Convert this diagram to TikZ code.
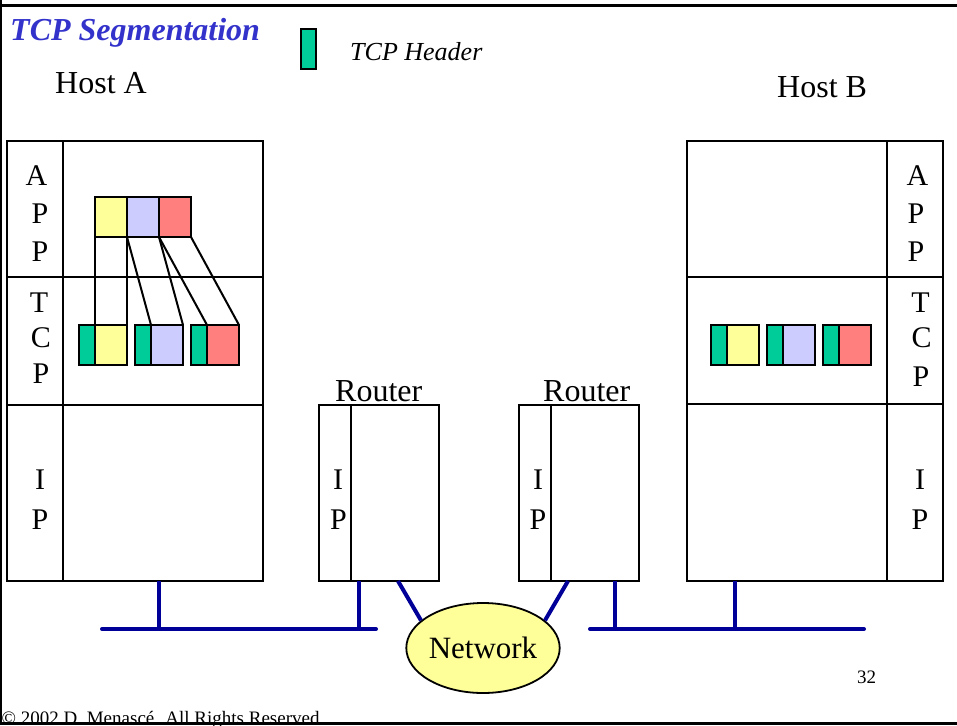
\documentclass[tikz,border=0pt]{standalone}
\usepackage{fontspec}
\setmainfont{Liberation Serif}
\usetikzlibrary{shapes.geometric}
\definecolor{hdr}{HTML}{00CC99}
\definecolor{ylw}{HTML}{FFFF99}
\definecolor{lav}{HTML}{CCCCFF}
\definecolor{sal}{HTML}{FF7F7F}
\definecolor{titleblue}{HTML}{3333CC}
\definecolor{wirecol}{HTML}{000099}
\begin{document}
\begin{tikzpicture}[x=1pt,y=-1pt,
  box/.style={draw, line width=2.5pt, inner sep=0pt, outer sep=0pt},
  divider/.style={line width=2.5pt},
  pk/.style={draw, line width=2.5pt, inner sep=0pt, outer sep=0pt,
             minimum height=40pt, anchor=north west},
  hd/.style={pk, fill=hdr, minimum width=16pt},
  dt/.style={pk, minimum width=32pt},
  link/.style={line width=2pt},
  wire/.style={draw=wirecol, line width=4pt},
  lt/.style={anchor=base, inner sep=0pt, font=\fontsize{30}{30}\selectfont},
  lbl/.style={anchor=base west, inner sep=0pt, font=\fontsize{32}{38}\selectfont},
  small/.style={anchor=base west, inner sep=0pt, font=\fontsize{19}{22}\selectfont}]
\useasboundingbox (0,0) rectangle (957,725);
\clip (0,0) rectangle (957,725);

% slide frame
\fill (0,4.5) rectangle (957,7);
\fill (0,0) rectangle (2,725);

% titles and labels
\node[lbl, font=\fontsize{32}{38}\selectfont\bfseries\itshape, text=titleblue]
  (title) at (10,40.5) {TCP Segmentation};
\node[pk, fill=hdr, minimum width=15pt] (legend) at (301,29) {};
\node[anchor=base west, inner sep=0pt, font=\fontsize{26}{30}\selectfont\itshape]
  (legendtext) at (350,60) {TCP Header};
\node[lbl] (hostAlbl) at (55,93) {Host A};
\node[lbl] (hostBlbl) at (777,97) {Host B};
\node[lbl] (r1lbl) at (335,401) {Router};
\node[lbl] (r2lbl) at (543,401) {Router};

% hosts and routers
\node[box, minimum width=256pt, minimum height=440pt] (hostA) at (135,361) {};
\node[box, minimum width=256pt, minimum height=440pt] (hostB) at (815,361) {};
\node[box, minimum width=120pt, minimum height=176pt] (r1) at (379,493) {};
\node[box, minimum width=120pt, minimum height=176pt] (r2) at (579,493) {};

\draw[divider] (63,141) -- (63,581) (7,277) -- (263,277) (7,405) -- (263,405);
\draw[divider] (887,141) -- (887,581) (687,277) -- (943,277) (687,404) -- (943,404);
\draw[divider] (351,405) -- (351,581);
\draw[divider] (551,405) -- (551,581);

% layer letters
\foreach \t/\x/\y/\n in {A/36.5/185/ha1, P/40/223/ha2, P/40/261/ha3,
    T/39/312/ht1, C/41/347/ht2, P/41/383/ht3, I/40/489/hi1, P/40/529/hi2,
    A/917.5/185/hb1, P/916/223/hb2, P/916/261/hb3,
    T/920.5/312/hbt1, C/921.5/347/hbt2, P/921/386/hbt3,
    I/920/489/hbi1, P/920/529/hbi2,
    I/338/489/ra1, P/338.5/529/ra2, I/538/489/rb1, P/538/529/rb2}
  \node[lt] (\n) at (\x,\y) {\t};

% application data in host A
\node[dt, fill=ylw] (ay) at (95,197) {};
\node[dt, fill=lav] (ab) at (127,197) {};
\node[dt, fill=sal] (ar) at (159,197) {};

% segments in host A
\node[hd] (a1h) at (79,325) {};  \node[dt, fill=ylw] (a1d) at (95,325) {};
\node[hd] (a2h) at (135,325) {}; \node[dt, fill=lav] (a2d) at (151,325) {};
\node[hd] (a3h) at (191,325) {}; \node[dt, fill=sal] (a3d) at (207,325) {};

\draw[link] (ay.south west) -- (a1d.north west);
\draw[link] (ay.south east) -- (a1d.north east);
\draw[link] (ab.south west) -- (a2d.north west);
\draw[link] (ab.south east) -- (a2d.north east);
\draw[link] (ar.south west) -- (a3d.north west);
\draw[link] (ar.south east) -- (a3d.north east);

% segments in host B
\node[hd] (b1h) at (711,325) {}; \node[dt, fill=ylw] (b1d) at (727,325) {};
\node[hd] (b2h) at (767,325) {}; \node[dt, fill=lav] (b2d) at (783,325) {};
\node[hd] (b3h) at (823,325) {}; \node[dt, fill=sal] (b3d) at (839,325) {};

% network
\node[ellipse, draw, line width=1.8pt, fill=ylw, minimum width=152pt,
  minimum height=90pt, inner sep=0pt, font=\fontsize{31}{36}\selectfont]
  (net) at (483,648) {Network};

% LAN wiring
\coordinate (busA1) at (102,629); \coordinate (busA2) at (376,629);
\coordinate (tapA) at (159,629);  \coordinate (tapR1) at (359,629);
\coordinate (busB1) at (590,629); \coordinate (busB2) at (864,629);
\coordinate (tapR2) at (615,629); \coordinate (tapB) at (735,629);
\coordinate (r1out) at (398,581); \coordinate (r2out) at (568,581);

\draw[wire, line cap=round] (busA1) -- (busA2);
\draw[wire, line cap=round] (busB1) -- (busB2);
\draw[wire] (tapA |- hostA.south) -- (tapA);
\draw[wire] (tapR1 |- r1.south) -- (tapR1);
\draw[wire] (tapR2 |- r2.south) -- (tapR2);
\draw[wire] (tapB |- hostB.south) -- (tapB);
\draw[wire] (r1out) -- (net.156);
\draw[wire] (r2out) -- (net.24);

% footer
\node[small] (page) at (857,683) {32};
\node[small] (copy) at (1.5,724.5) {© 2002 D. Menascé. All Rights Reserved};
\fill (0,722) rectangle (957,725);
\end{tikzpicture}
\end{document}
